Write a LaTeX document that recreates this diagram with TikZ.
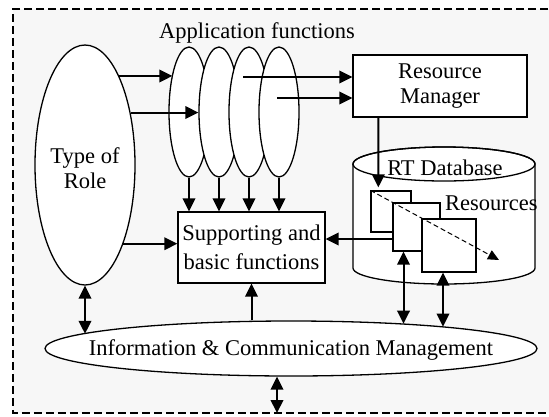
\documentclass[tikz,border=0pt]{standalone}
\usepackage{fontspec}
\setmainfont{Liberation Serif}
\usetikzlibrary{shapes.geometric,arrows.meta}
\definecolor{panelgray}{HTML}{F7F7F7}
\begin{document}
\begin{tikzpicture}[x=10pt,y=-10pt,font=\fontsize{22.5}{25.5}\selectfont,
  arr/.style={-{Triangle[length=13pt,width=12.5pt]},line width=2pt},
  dblarr/.style={{Triangle[length=13pt,width=12.5pt]}-{Triangle[length=13pt,width=12.5pt]},line width=2pt},
  dasharr/.style={-{Triangle[length=11pt,width=10pt]},line width=1pt,dash pattern=on 5pt off 3pt},
  oval/.style={ellipse,draw,line width=1.3pt,fill=white,inner sep=0pt},
  box/.style={rectangle,draw,line width=1.3pt,fill=white}]
\useasboundingbox (0,0) rectangle (54.9,41.6);
\fill[panelgray] (1.3,0.9) rectangle (56,41.3);
\draw[line width=1.5pt,dash pattern=on 8pt off 4pt] (56,0.9) -- (1.3,0.9) -- (1.3,41.3) -- (56,41.3);

% role and application functions
\node[oval,minimum width=100pt,minimum height=240pt] (role) at (8.5,16.5) {};
\node[align=center] (roletxt) at (8.5,16.8) {Type of\\Role};
\node[oval,minimum width=40pt,minimum height=130pt] (app1) at (18.9,11.2) {};
\node[oval,minimum width=40pt,minimum height=130pt] (app2) at (21.9,11.2) {};
\node[oval,minimum width=40pt,minimum height=130pt] (app3) at (24.9,11.2) {};
\node[oval,minimum width=40pt,minimum height=130pt] (app4) at (27.9,11.2) {};
\node (apptitle) at (25.7,3.3) {Application functions};

\node[box,minimum width=174pt,minimum height=62pt,align=center] (rm) at (44.0,8.6) {Resource\\Manager};
\node[box,minimum width=147pt,minimum height=71pt,inner sep=2pt,align=center] (sup) at (25.15,24.75) {Supporting and\\[3.5pt]basic functions};

% database
\filldraw[fill=white,line width=1.3pt] (35.3,16.4) -- (35.3,26.8)
  arc[start angle=180,end angle=360,x radius=91pt,y radius=16pt] -- (53.5,16.4)
  arc[start angle=0,end angle=180,x radius=91pt,y radius=17pt] -- cycle;
\draw[line width=1.3pt] (44.4,16.4) ellipse[x radius=91pt,y radius=17pt];
\node (rtdb) at (44.5,16.8) {RT Database};
\node[box,inner sep=0pt,minimum width=40pt,minimum height=41pt] (res1) at (39.1,21.15) {};
\node[box,inner sep=0pt,minimum width=47pt,minimum height=48pt] (res2) at (41.65,22.7) {};
\node[box,inner sep=0pt,minimum width=54pt,minimum height=53pt] (res3) at (44.9,24.55) {};
\node[anchor=west,inner sep=0pt] (reslbl) at (44.5,20.3) {Resources};
\coordinate (dashend) at (49.9,26.0);
\draw[dasharr] (res1.north west) -- (dashend);

\node[oval,minimum width=492pt,minimum height=55pt] (info) at (29.1,34.85) {};
\node (infotxt) at (29.1,35.0) {Information \& Communication Management};

% connectors
\draw[arr] (role.69) -- ([xshift=4pt]role.69 -| app1.west);
\draw[arr] (role.49) -- (role.49 -| app2.west);
\coordinate (rmin1) at (24.3,7.7);
\coordinate (rmin2) at (27.7,9.8);
\draw[arr] (rmin1) -- (rmin1 -| rm.west);
\draw[arr] (rmin2) -- (rmin2 -| rm.west);
\draw[arr] (app1.south) -- (app1.south |- sup.north);
\draw[arr] (app2.south) -- (app2.south |- sup.north);
\draw[arr] (app3.south) -- (app3.south |- sup.north);
\draw[arr] (app4.south) -- (app4.south |- sup.north);
\draw[arr] (role.-64) -- (role.-64 -| sup.west);
\draw[arr] ([xshift=26pt]rm.south west) -- ([xshift=8pt,yshift=3pt]res1.north west);
\draw[arr] ([yshift=-12pt]res2.west) -- ([yshift=-12pt]res2.west -| sup.east);
\draw[arr] (sup.south |- info.north) -- (sup.south);
\draw[dblarr] (role.south) -- (role.south |- info.176);
\draw[dblarr] ([xshift=-13pt]res2.south) -- ([xshift=-13pt]res2.south |- info.12);
\draw[dblarr] ([xshift=-6pt]res3.south) -- ([xshift=-6pt]res3.south |- info.8);
\coordinate (bottomedge) at (27.7,41.3);
\draw[dblarr] (bottomedge |- info.south) -- (bottomedge);
\end{tikzpicture}
\end{document}
